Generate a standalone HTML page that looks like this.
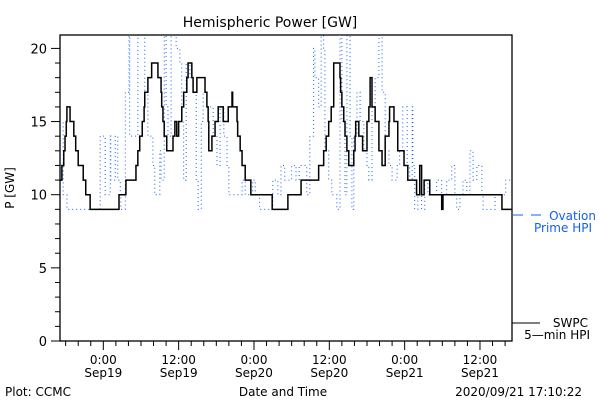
<!DOCTYPE html>
<html><head><meta charset="utf-8"><style>
body{margin:0;background:#fff;}
svg{display:block;font-family:"DejaVu Sans","Liberation Sans",sans-serif;}
</style></head><body>
<svg id="c" width="600" height="400" viewBox="0 0 600 400">
<text x="270" y="27" font-size="14" text-anchor="middle">Hemispheric Power [GW]</text>
<text x="0" y="0" font-size="12" text-anchor="middle" transform="translate(14,188) rotate(-90)">P [GW]</text>
<text x="283" y="396" font-size="12" text-anchor="middle">Date and Time</text>
<text x="5" y="396" font-size="12">Plot: CCMC</text>
<text x="582" y="396" font-size="12" text-anchor="end">2020/09/21 17:10:22</text>
<g>
<line x1="513" y1="215" x2="523" y2="215" stroke="#1560f0" stroke-width="1"/>
<line x1="531" y1="215" x2="541" y2="215" stroke="#1560f0" stroke-width="1"/>
<text x="596" y="220" font-size="12" fill="#1560f0" text-anchor="end">Ovation</text>
<text x="592" y="232" font-size="12" fill="#1560f0" text-anchor="end">Prime HPI</text>
</g>
<g>
<line x1="512" y1="323" x2="540" y2="323" stroke="#000" stroke-width="1"/>
<text x="588" y="327" font-size="12" text-anchor="end">SWPC</text>
<text x="590" y="339" font-size="12" text-anchor="end">5—min HPI</text>
</g>
<defs><clipPath id="pc"><rect x="60" y="35" width="452" height="306"/></clipPath></defs>
<g id="axes"></g>
<g id="series" clip-path="url(#pc)"></g>
</svg>
<script>
const yTicks=[0,5,10,15,20];
const xTickHours=[6.9,18.9,30.9,42.9,54.9,66.9];
const xTickTimes=["0:00","12:00","0:00","12:00","0:00","12:00"];
const xTickDates=["Sep19","Sep19","Sep20","Sep20","Sep21","Sep21"];
const swpcT=[0,0.3,0.6,0.8,1.0,1.1,1.6,2.2,2.5,2.9,3.7,4.1,4.8,9.4,10.5,12.1,12.4,12.7,13.1,13.4,13.5,14.0,14.6,15.6,16.1,16.2,16.4,16.6,17.0,18.0,18.3,18.6,18.9,19.4,19.7,20.2,20.4,21.0,21.2,21.8,23.1,23.4,23.6,23.7,24.2,24.7,25.2,26.0,26.8,27.4,27.5,28.2,28.3,28.7,29.0,29.5,30.4,33.8,36.3,38.4,41.2,42.0,42.4,42.8,43.2,43.6,44.6,44.7,44.9,45.2,45.4,45.7,46.0,46.8,47.0,47.1,47.6,48.2,48.9,49.2,49.4,49.7,50.2,50.8,51.3,51.8,52.4,52.5,53.2,53.8,54.8,55.4,56.8,57.3,57.6,58.0,58.9,60.8,61.0,70.4,72];
const swpcV=[11,12,13,14,15,16,15,14,13,12,11,10,9,10,11,12,13,14,15,16,17,18,19,18,17,16,15,14,13,14,15,14,15,16,17,18,19,18,17,18,17,16,15,13,14,15,16,15,16,17,16,15,14,13,12,11,10,9,10,11,12,13,14,15,16,19,18,17,16,15,14,13,12,13,14,15,14,13,15,16,18,16,15,13,12,14,15,16,15,13,12,11,10,12,10,11,10,9,10,9,9];
const ovT=[0,0.5,1.1,6.1,6.4,7.2,8.0,8.1,8.8,9.2,9.6,9.7,10.4,11.0,11.1,12.4,12.9,13.5,14.0,14.8,15.1,15.9,16.1,16.6,16.9,17.2,17.7,18.5,19.1,19.4,19.7,20.1,20.7,21.2,21.7,22.0,22.5,22.8,23.4,24.4,25.0,25.5,26.1,26.6,26.9,28.7,29.0,29.5,30.7,31.1,31.8,33.8,33.9,34.7,35.2,35.8,36.9,37.6,38.1,39.3,39.8,40.4,40.6,41.2,41.6,42.0,42.2,42.8,43.3,44.1,44.6,44.9,45.4,45.7,46.2,46.5,46.8,47.3,47.8,48.4,48.9,49.2,49.7,50.2,50.8,51.3,51.8,52.4,52.9,53.7,54.1,54.6,55.3,55.7,56.1,56.2,56.5,57.0,57.6,58.1,58.6,60.0,60.8,61.6,62.4,62.9,63.2,63.7,64.2,64.8,65.3,65.8,66.4,67.2,67.4,68.8,69.3,71.0,72];
const ovV=[15,10,9,9,14,10,14,11,14,11,10,9,17,21,14,21,21,17,14,12,10,13,11,21,16,14,21,20,19,15,11,19,18,17,11,9,15,17,16,14,12,16,14,12,10,10,11,10,11,10,9,9,11,10,12,11,12,11,12,10,14,20,18,16,21,20,13,11,10,9,21,15,10,21,14,9,14,17,15,13,12,11,16,18,21,17,13,12,11,12,13,16,12,11,16,12,9,10,9,11,10,11,10,11,12,10,9,10,11,10,13,11,12,10,9,9,10,11,11];
const X0=60,X1=512,Y0=341,TMAX=72;
function xs(t){return X0+t*(X1-X0)/TMAX;}
function ys(v){return Y0-v*14.63;}
const NS="http://www.w3.org/2000/svg";
const ax=document.getElementById('axes'),se=document.getElementById('series');
function mk(tag,at,par){const e=document.createElementNS(NS,tag);for(const k in at)e.setAttribute(k,at[k]);par.appendChild(e);return e;}
const frame=mk('rect',{x:X0,y:35,width:X1-X0,height:Y0-35,fill:'none',stroke:'#000','stroke-width':1.3},ax);


for(let v=0;v<=20;v++){const major=v%5===0;const t=mk('line',{x1:major?51:55,x2:X0,y1:ys(v),y2:ys(v),stroke:'#000'},ax);

}
yTicks.forEach(v=>{const t=mk('text',{x:47,y:ys(v)+5,'font-size':13,'text-anchor':'end'},ax);t.textContent=v;

});
for(let h=0.9;h<TMAX;h+=2){const x=xs(h);const major=xTickHours.some(m=>Math.abs(m-h)<0.05);const t=mk('line',{x1:x,x2:x,y1:Y0,y2:Y0+(major?9:5),stroke:'#000'},ax);

}
xTickHours.forEach((h,i)=>{const a=mk('text',{x:xs(h),y:364,'font-size':12,'text-anchor':'middle'},ax);a.textContent=xTickTimes[i];


const b=mk('text',{x:xs(h),y:377,'font-size':12,'text-anchor':'middle'},ax);b.textContent=xTickDates[i];

});
function stepPath(T,V){let d='M'+xs(T[0])+','+ys(V[0]);for(let i=1;i<T.length;i++){d+=' H'+xs(T[i])+' V'+ys(V[i]);}return d;}
const ov=mk('path',{d:stepPath(ovT,ovV),fill:'none',stroke:'#1560f0','stroke-width':1,'stroke-dasharray':'1 3'},se);


const sw=mk('path',{d:stepPath(swpcT,swpcV),fill:'none',stroke:'#000','stroke-width':1.5},se);


</script>
</body></html>
